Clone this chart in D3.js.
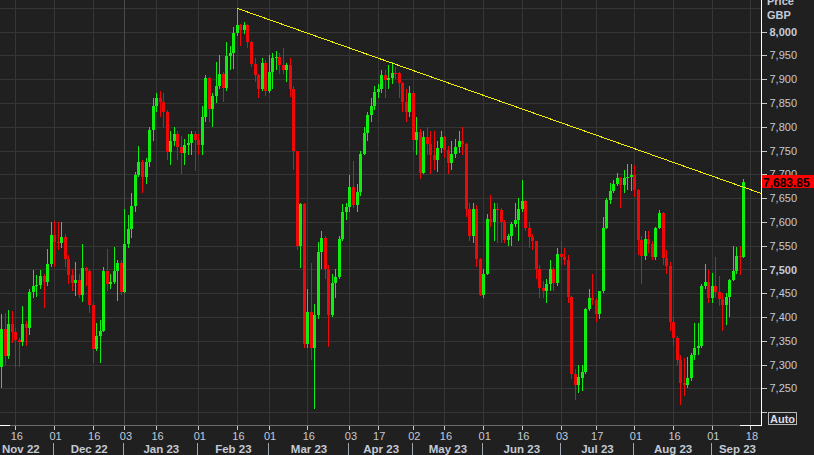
<!DOCTYPE html>
<html><head><meta charset="utf-8">
<script src="https://cdn.jsdelivr.net/npm/d3@7"></script>
<style>
html,body{margin:0;padding:0;background:#202020;}
svg{display:block;font-family:"Liberation Sans",Arial,sans-serif;}
</style></head><body>
<svg id="chart" width="814" height="455"></svg>
<script>
// ---- data: rows are [day, open, high, low, close] ----
const nov22 = [
[10,7296,7406,7251,7375],[11,7375,7409,7300,7318],[14,7318,7415,7312,7385],[15,7385,7412,7346,7369],
[16,7369,7378,7296,7351],[17,7351,7357,7296,7347],[18,7347,7423,7340,7386],[21,7386,7392,7340,7377],
[22,7377,7460,7362,7453],[23,7453,7499,7440,7465],[24,7465,7488,7443,7467],[25,7467,7499,7460,7487],
[28,7487,7490,7419,7474],[29,7474,7543,7465,7512],[30,7512,7600,7505,7573]];
const dec22 = [
[1,7573,7601,7506,7558],[2,7558,7600,7540,7556],[5,7556,7599,7545,7568],[6,7568,7575,7505,7521],
[7,7521,7530,7470,7489],[8,7489,7500,7455,7472],[9,7472,7515,7445,7477],[12,7477,7490,7439,7446],
[13,7446,7553,7432,7503],[14,7503,7506,7465,7496],[15,7496,7500,7409,7426],[16,7426,7430,7304,7332],
[19,7332,7387,7328,7361],[20,7361,7394,7303,7371],[21,7371,7505,7368,7497],[22,7497,7542,7455,7469],
[23,7469,7490,7460,7473],[28,7473,7548,7470,7497],[29,7497,7520,7434,7513],[30,7513,7520,7447,7452]];
const jan23 = [
[3,7452,7627,7450,7554],[4,7554,7614,7545,7585],[5,7585,7660,7566,7633],[6,7633,7705,7620,7699],
[9,7699,7760,7695,7725],[10,7725,7730,7660,7694],[11,7694,7735,7680,7725],[12,7725,7800,7715,7794],
[13,7794,7860,7770,7844],[16,7844,7870,7830,7860],[17,7860,7875,7820,7851],[18,7851,7870,7800,7831],
[19,7831,7835,7730,7747],[20,7747,7790,7720,7771],[23,7771,7800,7760,7785],[24,7785,7790,7730,7757],
[25,7757,7780,7700,7745],[26,7745,7775,7720,7761],[27,7761,7785,7740,7765],[30,7765,7790,7740,7785],
[31,7785,7790,7708,7772]];
const feb23 = [
[1,7772,7785,7740,7761],[2,7761,7843,7740,7820],[3,7820,7908,7810,7902],[6,7902,7905,7810,7837],
[7,7837,7870,7800,7865],[8,7865,7937,7850,7885],[9,7885,7951,7880,7911],[10,7911,7915,7853,7882],
[13,7882,7979,7875,7948],[14,7948,7970,7920,7954],[15,7954,8010,7922,7998],[16,7998,8049,7990,8013],
[17,8013,8015,7970,8004],[20,8004,8020,7995,8014],[21,8014,8016,7965,7978],[22,7978,7980,7925,7931],
[23,7931,7945,7895,7908],[24,7908,7910,7860,7879],[27,7879,7945,7875,7935],[28,7935,7940,7865,7876]];
const mar23 = [
[1,7876,7950,7870,7915],[2,7915,7955,7880,7944],[3,7944,7960,7920,7947],[6,7947,7955,7910,7930],
[7,7930,7965,7910,7919],[8,7919,7935,7895,7930],[9,7930,7945,7862,7880],[10,7880,7885,7710,7748],
[13,7748,7750,7540,7549],[14,7549,7640,7503,7637],[15,7637,7640,7334,7344],[16,7344,7458,7334,7410],
[17,7410,7513,7310,7335],[20,7335,7427,7206,7404],[21,7404,7558,7395,7536],[22,7536,7580,7500,7567],
[23,7567,7570,7480,7500],[24,7500,7510,7338,7405],[27,7405,7490,7400,7472],[28,7472,7500,7440,7484],
[29,7484,7570,7480,7564],[30,7564,7638,7560,7620],[31,7620,7640,7605,7632]];
const apr23 = [
[3,7632,7698,7620,7673],[4,7673,7727,7630,7635],[5,7635,7680,7620,7663],[6,7663,7750,7655,7742],
[11,7742,7800,7740,7786],[12,7786,7830,7770,7825],[13,7825,7860,7810,7843],[14,7843,7885,7835,7872],
[17,7872,7890,7860,7880],[18,7880,7920,7870,7909],[19,7909,7920,7860,7899],[20,7899,7930,7880,7903],
[21,7903,7937,7890,7914],[24,7914,7925,7900,7912],[25,7912,7915,7860,7891],[26,7891,7895,7830,7853],
[27,7853,7880,7810,7832],[28,7832,7885,7820,7871]];
const may23 = [
[2,7871,7875,7750,7773],[3,7773,7820,7740,7788],[4,7788,7795,7690,7703],[5,7703,7790,7700,7778],
[9,7778,7800,7740,7764],[10,7764,7790,7700,7741],[11,7741,7790,7710,7731],[12,7731,7770,7705,7755],
[15,7755,7790,7745,7778],[16,7778,7780,7735,7751],[17,7751,7760,7700,7723],[18,7723,7770,7710,7742],
[19,7742,7775,7735,7757],[22,7757,7790,7745,7771],[23,7771,7800,7740,7763],[24,7763,7765,7610,7627],
[25,7627,7640,7560,7571],[26,7571,7640,7555,7627],[30,7627,7635,7505,7522],[31,7522,7525,7445,7446]];
const jun23 = [
[1,7446,7500,7440,7490],[2,7490,7617,7488,7607],[5,7607,7657,7590,7600],[6,7600,7640,7560,7628],
[7,7628,7640,7556,7624],[8,7624,7630,7556,7600],[9,7600,7605,7555,7562],[12,7562,7575,7550,7571],
[13,7571,7600,7550,7595],[14,7595,7640,7590,7603],[15,7603,7650,7560,7628],[16,7628,7688,7620,7643],
[19,7643,7645,7580,7588],[20,7588,7600,7545,7569],[21,7569,7575,7540,7559],[22,7559,7560,7480,7502],
[23,7502,7510,7440,7462],[26,7462,7475,7440,7454],[27,7454,7480,7430,7470],[28,7470,7520,7455,7500],
[29,7500,7505,7455,7472],[30,7472,7545,7465,7532]];
const jul23 = [
[3,7532,7560,7510,7527],[4,7527,7545,7510,7520],[5,7520,7530,7430,7442],[6,7442,7445,7270,7280],
[7,7280,7290,7226,7257],[10,7257,7300,7240,7274],[11,7272,7300,7245,7284],[12,7284,7420,7280,7416],
[13,7416,7460,7412,7440],[14,7440,7490,7425,7435],[17,7435,7440,7390,7406],[18,7406,7455,7395,7454],
[19,7454,7610,7450,7588],[20,7588,7650,7585,7646],[21,7646,7682,7637,7664],[24,7664,7688,7660,7679],
[25,7679,7703,7675,7692],[26,7692,7695,7630,7677],[27,7677,7710,7660,7693],[28,7693,7722,7667,7694],
[31,7694,7722,7665,7699]];
const aug23 = [
[1,7699,7720,7653,7666],[2,7666,7670,7530,7562],[3,7562,7570,7470,7529],[4,7529,7580,7519,7564],
[7,7564,7580,7535,7554],[8,7554,7560,7519,7527],[9,7527,7590,7520,7587],[10,7587,7625,7585,7619],
[11,7619,7620,7510,7524],[14,7524,7540,7490,7507],[15,7507,7515,7370,7390],[16,7390,7400,7340,7357],
[17,7357,7360,7300,7310],[18,7310,7320,7215,7262],[21,7262,7313,7235,7258],[22,7258,7317,7250,7271],
[23,7271,7325,7265,7321],[24,7321,7387,7310,7334],[25,7334,7388,7320,7339],[29,7339,7470,7335,7465],
[30,7465,7512,7460,7474],[31,7474,7499,7430,7439]];
const sep23 = [
[1,7439,7493,7430,7465],[4,7465,7527,7440,7453],[5,7453,7486,7423,7438],[6,7438,7450,7370,7426],
[7,7426,7450,7384,7442],[8,7442,7480,7401,7478],[11,7478,7549,7475,7497],[12,7497,7547,7490,7528],
[13,7528,7549,7488,7526],[14,7526,7690,7524,7683.85]];

const monthData = [["2022-11",nov22],["2022-12",dec22],["2023-01",jan23],["2023-02",feb23],["2023-03",mar23],
  ["2023-04",apr23],["2023-05",may23],["2023-06",jun23],["2023-07",jul23],["2023-08",aug23],["2023-09",sep23]];
const futureDays = ["2023-09-15","2023-09-18","2023-09-19","2023-09-20","2023-09-21"];

const dayTicks = ["2022-11-16","2022-12-01","2022-12-16","2023-01-03","2023-01-16","2023-02-01","2023-02-16",
  "2023-03-01","2023-03-16","2023-04-03","2023-04-17","2023-05-02","2023-05-16","2023-06-01","2023-06-16",
  "2023-07-03","2023-07-17","2023-08-01","2023-08-16","2023-09-01","2023-09-18"];
const dayTickLabels = ["16","01","16","03","16","01","16","01","16","03","17","02","16","01","16","03","17","01","16","01","18"];
const monthLabels = ["Nov 22","Dec 22","Jan 23","Feb 23","Mar 23","Apr 23","May 23","Jun 23","Jul 23","Aug 23","Sep 23"];
const monthFirstDays = ["2022-11-01","2022-12-01","2023-01-03","2023-02-01","2023-03-01","2023-04-03","2023-05-02",
  "2023-06-01","2023-07-03","2023-08-01","2023-09-01","2023-10-02"];
const gridValues = [7200,7250,7300,7350,7400,7450,7500,7550,7600,7650,7700,7750,7800,7850,7900,7950,8000,8050];
const priceLabels = [7250,7300,7350,7400,7450,7500,7550,7600,7650,7700,7750,7800,7850,7900,7950,8000];
const boldLabels = [7500,8000];
const trend = [["2023-02-16",8049],["2023-09-21",7660]];
const lastPrice = 7683.85;

// ---- build ----
const candles = [];
monthData.forEach(([ym, rows]) => rows.forEach(r => candles.push({
  date: ym + "-" + String(r[0]).padStart(2,"0"), o:r[1], h:r[2], l:r[3], c:r[4]})));
const allDates = candles.map(d => d.date).concat(futureDays);

const PR = 761, PB = 425;
const x = d3.scalePoint().domain(allDates).range([1.3, 761.0]);
const step = x.step();
const y = d3.scaleLinear().domain([7200, 8050]).range([412.2, 7.8]);
const parse = d3.timeParse("%Y-%m-%d");
function weekdaysBetween(a, b) { // count weekdays in [a, b)
  let n = 0; for (let d = new Date(a); d < b; d.setDate(d.getDate()+1)) { const w = d.getDay(); if (w>0 && w<6) n++; } return n;
}
function xAny(s) {
  if (x(s) !== undefined) return x(s);
  const d = parse(s), first = parse(allDates[0]), last = parse(allDates[allDates.length-1]);
  if (d < first) return x(allDates[0]) - step * weekdaysBetween(d, first);
  return x(allDates[allDates.length-1]) + step * weekdaysBetween(last, d);
}

const svg = d3.select("#chart");
svg.append("rect").attr("width", 814).attr("height", 455).attr("fill", "#202020");
svg.append("defs").append("clipPath").attr("id","plot").append("rect").attr("x",0).attr("y",0).attr("width",PR).attr("height",PB);

const grid = svg.append("g").attr("shape-rendering","crispEdges");
grid.selectAll("line.h").data(gridValues).join("line").attr("class","h")
  .attr("x1",0).attr("x2",PR).attr("y1",d=>Math.round(y(d))+0.5).attr("y2",d=>Math.round(y(d))+0.5)
  .attr("stroke","#363636");
grid.selectAll("line.v").data(dayTicks).join("line").attr("class","v")
  .attr("x1",d=>Math.round(x(d))+0.5).attr("x2",d=>Math.round(x(d))+0.5).attr("y1",0).attr("y2",PB)
  .attr("stroke",d=>d==="2023-01-03" ? "#4a4a4a" : "#363636");

const plot = svg.append("g").attr("clip-path","url(#plot)");
const up = "#10ee10", dn = "#f00808";
const cg = plot.append("g").attr("shape-rendering","crispEdges");
cg.selectAll("line").data(candles).join("line")
  .attr("x1",d=>Math.round(x(d.date))+0.5).attr("x2",d=>Math.round(x(d.date))+0.5)
  .attr("y1",d=>y(d.h)).attr("y2",d=>y(d.l))
  .attr("stroke",d=>d.c>=d.o?up:dn).attr("stroke-width",1);
cg.selectAll("rect").data(candles).join("rect")
  .attr("x",d=>Math.round(x(d.date))-1).attr("width",3)
  .attr("y",d=>Math.min(y(d.o),y(d.c)))
  .attr("height",d=>Math.max(1,Math.abs(y(d.o)-y(d.c))))
  .attr("fill",d=>d.c>=d.o?up:dn);

plot.append("line")
  .attr("x1",x(trend[0][0])).attr("y1",y(trend[0][1]))
  .attr("x2",x(trend[1][0])).attr("y2",y(trend[1][1]))
  .attr("stroke","#f0f000").attr("stroke-width",1).attr("shape-rendering","crispEdges");

// frame lines
const fr = svg.append("g").attr("shape-rendering","crispEdges");
fr.append("line").attr("x1",0).attr("x2",PR).attr("y1",PB+0.5).attr("y2",PB+0.5).attr("stroke","#6a6a6a");
fr.append("line").attr("x1",0).attr("x2",10).attr("y1",PB+0.5).attr("y2",PB+0.5).attr("stroke","#ffffff");
fr.append("line").attr("x1",740).attr("x2",PR+1).attr("y1",PB+0.5).attr("y2",PB+0.5).attr("stroke","#ffffff");
fr.append("line").attr("x1",PR+0.5).attr("x2",PR+0.5).attr("y1",0).attr("y2",PB+1).attr("stroke","#ffffff");

// right axis
const txt = "#c4cad6";
const ya = svg.append("g").attr("transform",`translate(${PR+0.5},0)`)
  .call(d3.axisRight(y).tickValues(priceLabels).tickSize(5).tickPadding(3).tickFormat(d3.format(",")));
ya.select(".domain").remove();
ya.selectAll(".tick line").attr("stroke","#c8c8c8").attr("shape-rendering","crispEdges");
ya.selectAll(".tick text").attr("fill",txt).attr("font-size","11px").attr("font-family","Liberation Sans, Arial, sans-serif")
  .attr("font-weight",d=>boldLabels.includes(d)?"bold":"normal");
svg.append("line").attr("x1",PR+1).attr("x2",PR+6).attr("y1",Math.round(y(7200))+0.5).attr("y2",Math.round(y(7200))+0.5)
  .attr("stroke","#c8c8c8").attr("shape-rendering","crispEdges");

svg.append("text").attr("x",767).attr("y",5).attr("fill",txt).attr("font-size","11px").attr("font-weight","bold").text("Price");
svg.append("text").attr("x",767).attr("y",19).attr("fill",txt).attr("font-size","11px").attr("font-weight","bold").text("GBP");

// last price tag
const ly = y(lastPrice);
svg.append("rect").attr("x",PR+1).attr("y",Math.round(ly)-7).attr("width",814-PR-1).attr("height",13).attr("fill","#ff0000");
svg.append("text").attr("x",763).attr("y",Math.round(ly)+4.5).attr("fill","#000").attr("font-size","12px")
  .attr("font-weight","bold").text(d3.format(",.2f")(lastPrice));

// Auto box
svg.append("rect").attr("x",768.5).attr("y",412.5).attr("width",28).attr("height",12)
  .attr("fill","#202020").attr("stroke","#b8b8b8").attr("shape-rendering","crispEdges");
svg.append("text").attr("x",782.5).attr("y",422.5).attr("text-anchor","middle").attr("fill","#d8dce6")
  .attr("font-size","11px").attr("font-weight","bold").text("Auto");

// bottom axis
const xa = svg.append("g").attr("transform",`translate(0,${PB+0.5})`)
  .call(d3.axisBottom(x).tickValues(dayTicks).tickSize(4).tickPadding(3).tickFormat((d,i)=>dayTickLabels[i]));
xa.select(".domain").remove();
xa.selectAll(".tick line").attr("stroke","#c8c8c8").attr("shape-rendering","crispEdges");
xa.selectAll(".tick text").attr("fill",txt).attr("font-size","11px").attr("dx","1")
  .attr("font-family","Liberation Sans, Arial, sans-serif");

// month separators and labels
const mg = svg.append("g");
monthFirstDays.slice(1, monthFirstDays.length-1).forEach(d => {
  const xx = Math.round(xAny(d)) - 0.5;
  mg.append("line").attr("x1",xx).attr("x2",xx).attr("y1",443).attr("y2",455)
    .attr("stroke","#a0a6b0").attr("shape-rendering","crispEdges");
});
monthLabels.forEach((lab, i) => {
  const a = xAny(monthFirstDays[i]), b = xAny(monthFirstDays[i+1]);
  const t = mg.append("text").attr("y",453).attr("fill",txt).attr("font-size","11.5px").attr("font-weight","bold")
    .attr("text-anchor","middle").text(lab);
  const w = t.node().getComputedTextLength();
  let cx = (a + b) / 2;
  cx = Math.max(cx, w/2 + 2);
  cx = Math.min(cx, PR - w/2 - 5);
  t.attr("x", cx);
});
</script>
</body></html>
